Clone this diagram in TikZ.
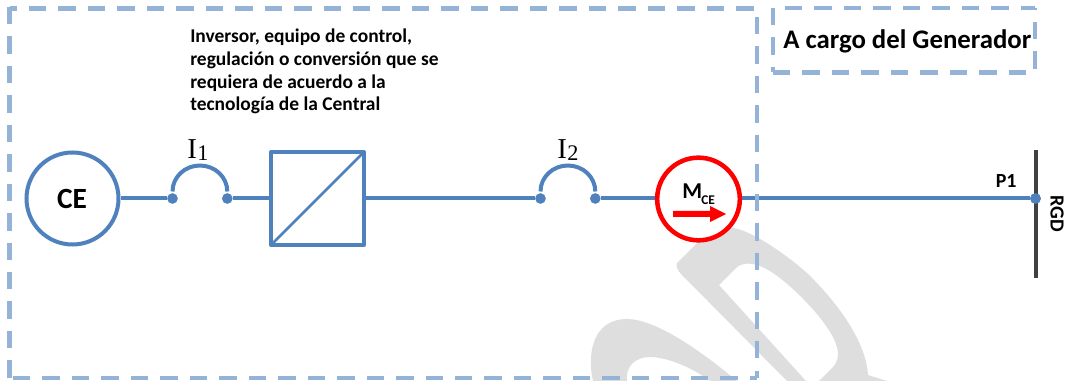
\documentclass[tikz,border=0pt]{standalone}
\usepackage{fontspec}
\setmainfont{Carlito}
\newfontfamily\symfont{Liberation Serif}
\definecolor{wire}{HTML}{4F81BD}
\definecolor{dashc}{HTML}{95B3D7}
\definecolor{wm}{HTML}{DEDEDE}
\definecolor{barc}{HTML}{404040}
\tikzset{
  wireline/.style={draw=wire,line width=3pt},
  term/.style={circle,fill=wire,inner sep=0pt,minimum size=8pt},
  zone/.style={draw=dashc,line width=3.5pt,dash pattern=on 13.1pt off 9pt,dash phase=#1},
  lbl/.style={inner sep=0pt,text=black},
  sw/.style={inner sep=0pt,text=black,font=\symfont\fontsize{21.6}{21.6}\selectfont},
  swsub/.style={inner sep=0pt,text=black,font=\symfont\fontsize{16.7}{16.7}\selectfont}
}
\begin{document}
\begin{tikzpicture}[x=0.75pt,y=-0.75pt]
\useasboundingbox (0,0) rectangle (1065,381);
% watermark
\fill[wm,even odd rule] (677,263) -- (697,243) .. controls (707,233) and (720,227) .. (733,228)
  .. controls (745,229) and (775,245) .. (807,273)
  .. controls (835,300) and (866,340) .. (868,375) -- (887,381) -- (787,381) -- (681,274)
  .. controls (677,270) and (676,266) .. (677,263) -- cycle
 (719,285) -- (737,267) .. controls (745,261) and (758,263) .. (773,273)
  .. controls (790,284) and (830,322) .. (837,347)
  .. controls (839,355) and (838,362) .. (833,367) -- (819,381) -- (806,381) -- cycle;
\fill[wm,even odd rule] (593,381) .. controls (587,355) and (592,319) .. (627,319)
  .. controls (655,319) and (700,350) .. (737,381) -- (710,381)
  .. controls (690,366) and (665,357) .. (650,357)
  .. controls (635,357) and (625,367) .. (627,381) -- cycle;
% nodes
\node[circle,draw=wire,line width=3pt,minimum size=69pt,inner sep=0pt] (ce) at (72.5,198.5) {};
\node[lbl,font=\fontsize{22}{22}\selectfont\bfseries,anchor=base] (cet) at (72,209) {CE};
\node[term] (a1) at (172.5,198.5) {};
\node[term] (a2) at (227.3,198.5) {};
\node[draw=wire,line width=3pt,line join=round,minimum size=69.8pt,inner sep=0pt] (conv) at (317.5,198.5) {};
\node[term] (b1) at (540.5,198.5) {};
\node[term] (b2) at (595.3,198.5) {};
\node[circle,draw=red,fill=white,line width=3.4pt,minimum size=62pt,inner sep=0pt] (m) at (698.5,199) {};
\node[term] (p1) at (1035.5,198.5) {};
\coordinate (rt) at (1036,150);
\coordinate (rb) at (1036,278);
\draw[barc,line width=3pt] (rt) -- (rb);
\node[term] at (p1) {};
% connectors
\draw[wireline] (ce) -- (a1);
\draw[wireline] (a2) -- (conv);
\draw[wireline] (conv) -- (b1);
\draw[wireline] (b2) -- (m.west |- b2);
\draw[wireline] (m.east |- p1) -- (p1);
\draw[wireline] (a1) ++(0,-7) arc[start angle=180,end angle=360,x radius=27.4,y radius=26];
\draw[wireline] (b1) ++(0,-7) arc[start angle=180,end angle=360,x radius=27.4,y radius=26];
\draw[wire,line width=1.9pt,shorten >=1.8pt,shorten <=1.8pt] (conv.south west) -- (conv.north east);
% zones
\coordinate (zA) at (9.5,8.5);
\coordinate (zB) at (757,8.5);
\coordinate (zC) at (757,378);
\coordinate (zD) at (9.5,378);
\draw[zone=7.6pt] (zA) -- (zB);
\draw[zone=15.8pt] (zB) -- (zC);
\draw[zone=7.6pt] (zC) -- (zD);
\draw[zone=0pt] (9.5,6.8) -- (zD);
\coordinate (yA) at (773,8);
\coordinate (yB) at (1035,8);
\coordinate (yC) at (1035,72.5);
\coordinate (yD) at (773,72.5);
\draw[zone=13.1pt] (yA) -- (yB);
\draw[zone=11.6pt] (yB) -- (yC);
\draw[zone=0pt] (yD) -- (yC);
\draw[zone=0pt] (yA) -- (yD);
% labels
\node[sw,anchor=base west] (i1) at (187,159) {I};
\node[swsub,anchor=base west] (i1s) at (197,161) {1};
\node[sw,anchor=base west] (i2) at (557,159) {I};
\node[swsub,anchor=base west] (i2s) at (567,161) {2};
\node[lbl,anchor=base west,font=\fontsize{14.6}{14.6}\selectfont\bfseries] (t1) at (190,43) {Inversor, equipo de control,};
\node[lbl,anchor=base west,font=\fontsize{14.6}{14.6}\selectfont\bfseries] (t2) at (190,66) {regulación o conversión que se};
\node[lbl,anchor=base west,font=\fontsize{14.6}{14.6}\selectfont\bfseries] (t3) at (190,89) {requiera de acuerdo a la};
\node[lbl,anchor=base west,font=\fontsize{14.6}{14.6}\selectfont\bfseries] (t4) at (190,111) {tecnología de la Central};
\node[lbl,anchor=base west,font=\fontsize{20.1}{20.1}\selectfont\bfseries] (gen) at (783,49) {A cargo del Generador};
\node[lbl,anchor=base west,font=\fontsize{15}{15}\selectfont\bfseries] (p1t) at (995.5,188) {P1};
\node[lbl,rotate=-90,font=\fontsize{15}{15}\selectfont\bfseries] (rgd) at (1057,213.5) {RGD};
\node[lbl,anchor=base west,font=\fontsize{17}{17}\selectfont\bfseries] (mt) at (682,199) {M};
\node[lbl,anchor=base west,font=\fontsize{10}{10}\selectfont\bfseries] (mts) at (701,205) {CE};
% arrow
\fill[red] (673,211) -- (710,211) -- (710,206) -- (726,214) -- (710,222) -- (710,217) -- (673,217) -- cycle;
\end{tikzpicture}
\end{document}
